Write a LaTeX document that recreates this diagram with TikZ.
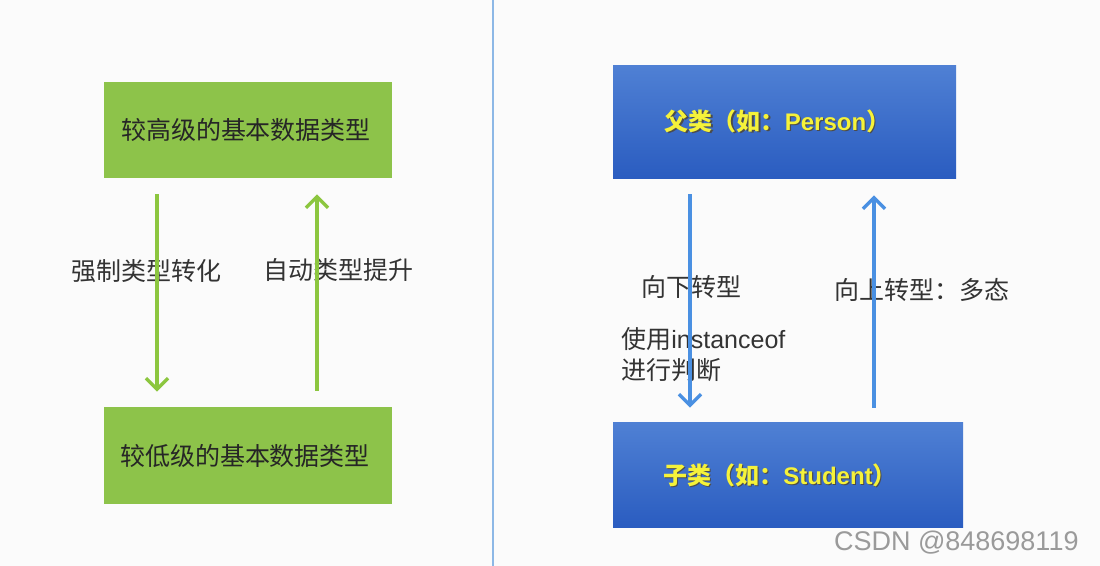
\documentclass[tikz,border=0pt]{standalone}
\usepackage{fontspec}
\setmainfont{Liberation Sans}
\newfontfamily\cjk{Noto Sans CJK SC}
\usetikzlibrary{arrows.meta,shadings}
\definecolor{bg}{HTML}{FBFBFB}
\definecolor{gbox}{HTML}{8DC34A}
\definecolor{garr}{HTML}{8CC63F}
\definecolor{barr}{HTML}{4A90E2}
\definecolor{btop}{HTML}{4F80D4}
\definecolor{bbot}{HTML}{2A5CC0}
\definecolor{ytxt}{HTML}{F5F23A}
\definecolor{divl}{HTML}{8DB8E6}
\definecolor{wm}{HTML}{9A9A9A}
\begin{document}
\begin{tikzpicture}[x=0.5pt,y=-0.5pt,
  greenbox/.style={draw=none,fill=gbox,inner sep=0pt},
  bluebox/.style={draw=none,top color=btop,bottom color=bbot,inner sep=0pt},
  boxtext/.style={font=\cjk\fontsize{12.5pt}{15pt}\selectfont,text=black!85},
  labeltext/.style={font=\cjk\fontsize{12.5pt}{15.5pt}\selectfont,text=black!80,inner sep=0pt},
  ytext/.style={font=\bfseries\fontsize{12pt}{15pt}\selectfont,text=ytxt,inner sep=0pt},
  stext/.style={font=\bfseries\fontsize{12pt}{15pt}\selectfont,text=black!70,inner sep=0pt},
  garrow/.style={draw=garr,line width=1.7pt,-{Straight Barb[length=5.5pt,width=11pt,line width=1.7pt]}},
  barrow/.style={draw=barr,line width=1.7pt,-{Straight Barb[length=5.5pt,width=11pt,line width=1.7pt]}}
]
\useasboundingbox (0,0) rectangle (1100,566);
\fill[bg] (0,0) rectangle (1100,566);

% divider
\coordinate (dtop) at (493,0);
\coordinate (dbot) at (493,566);
\draw[divl,line width=0.8pt] (dtop) -- (dbot);

% left boxes
\node[greenbox,minimum width=144pt,minimum height=48pt] (hi) at (248,130) {};
\node[boxtext] (hit) at (246,130) {较高级的基本数据类型};
\node[greenbox,minimum width=144pt,minimum height=48.5pt] (lo) at (248,455.5) {};
\node[boxtext] (lot) at (245,456) {较低级的基本数据类型};

% left labels
\node[labeltext] (l1) at (146.5,271) {强制类型转化};
\node[labeltext] (l2) at (338.5,270) {自动类型提升};

% left arrows
\coordinate (c1) at (157,0);
\coordinate (c2) at (317,0);
\draw[garrow,shorten <=8pt,shorten >=7.5pt] (hi.south -| c1) -- (lo.north -| c1);
\draw[garrow,shorten <=8pt,shorten >=8pt] (lo.north -| c2) -- (hi.south -| c2);

% right boxes
\node[bluebox,minimum width=171.5pt,minimum height=56.5pt] (par) at (784.5,122.5) {};
\node[stext] at (778.7,122.2) {{\cjk 父类（如：}Person{\cjk ）}};
\node[ytext] (part) at (777.5,121) {{\cjk 父类（如：}Person{\cjk ）}};
\node[bluebox,minimum width=175pt,minimum height=52.5pt] (sub) at (788,475.5) {};
\node[stext] at (781.2,476.2) {{\cjk 子类（如：}Student{\cjk ）}};
\node[ytext] (subt) at (780,475) {{\cjk 子类（如：}Student{\cjk ）}};

% right labels
\node[labeltext] (r1) at (691.5,287) {向下转型};
\node[labeltext] (r2) at (921.5,290) {向上转型：多态};
\node[labeltext,anchor=west,align=left,font=\fontsize{12.5pt}{15.5pt}\selectfont] (r3) at (621,355) {{\cjk 使用}instanceof\\{\cjk 进行判断}};

% right arrows
\coordinate (c3) at (690,0);
\coordinate (c4) at (874,0);
\draw[barrow,shorten <=7.5pt,shorten >=7.5pt] (par.south -| c3) -- (sub.north -| c3);
\draw[barrow,shorten <=7.5pt,shorten >=8pt] (sub.north -| c4) -- (par.south -| c4);

% watermark
\node[text=wm,font=\fontsize{13.5pt}{16pt}\selectfont,anchor=east,inner sep=0pt] (wmk) at (1079,543) {CSDN @848698119};
\end{tikzpicture}
\end{document}
